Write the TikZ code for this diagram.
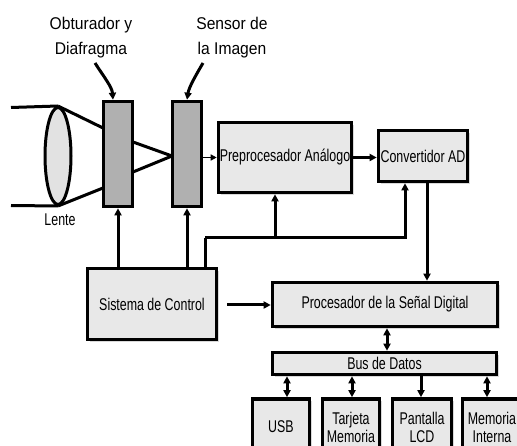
\documentclass[tikz,border=0pt]{standalone}
\usepackage{fontspec}
\setmainfont{Liberation Sans}
\newfontfamily\boxfont[FakeStretch=0.73]{Liberation Sans}
\newfontfamily\labfont[FakeStretch=0.92]{Liberation Sans}
\usetikzlibrary{arrows.meta,shadows,shapes.geometric,calc}
\definecolor{boxfill}{HTML}{E8E8E8}
\definecolor{darkfill}{HTML}{B0B0B0}
\definecolor{lensfill}{HTML}{E2E2E2}
\begin{document}
\begin{tikzpicture}[x=1pt,y=-1pt,
  blk/.style={draw=black,line width=3.6pt,fill=boxfill,inner sep=0pt,align=center,
    font=\boxfont\fontsize{17}{18}\selectfont,
    drop shadow={shadow xshift=2.5pt,shadow yshift=-2.5pt,opacity=0.3}},
  dk/.style={draw=black,line width=3.6pt,fill=darkfill,inner sep=0pt,minimum width=29pt,minimum height=105pt},
  lab/.style={align=center,inner sep=0pt,font=\labfont\fontsize{17}{25}\selectfont},
  ln/.style={line width=3pt},
  arr/.style={line width=3pt,-{Triangle[length=7pt,width=7pt]}},
  thinarr/.style={line width=1.8pt,-{Triangle[length=6pt,width=6pt]}},
  dbl/.style={line width=3pt,{Triangle[length=7pt,width=7pt]}-{Triangle[length=7pt,width=7pt]}}]
\useasboundingbox (0,0) rectangle (517,446);
\clip (0,0) rectangle (517,446);

% labels
\node[lab] (lobt) at (91,38) {Obturador y\\Diafragma};
\node[lab] (lsen) at (232,38) {Sensor de\\la Imagen};
\node[inner sep=0pt,font=\boxfont\fontsize{17}{18}\selectfont] (llen) at (60,220) {Lente};

% optics
\node[ellipse,draw=black,line width=3pt,fill=lensfill,minimum width=26pt,minimum height=97pt,inner sep=0pt] (lens) at (58,156) {};
\node[dk] (obt) at (118,154) {};
\node[dk] (sen) at (187,154) {};

% blocks
\node[blk,minimum width=133pt,minimum height=70pt] (pre) at (285,157.5) {Preprocesador Análogo};
\node[blk,minimum width=89pt,minimum height=51pt] (conv) at (423,156) {Convertidor AD};
\node[blk,minimum width=129pt,minimum height=71pt] (sis) at (152,304) {Sistema de Control};
\node[blk,minimum width=225pt,minimum height=44pt] (proc) at (385,304.5) {Procesador de la Señal Digital};
\node[blk,minimum width=224pt,minimum height=22pt] (bus) at (384.5,363.5) {Bus de Datos};
\node[blk,minimum width=57pt,minimum height=56pt] (usb) at (281,427) {USB};
\node[blk,minimum width=57pt,minimum height=56pt] (tar) at (351,427) {Tarjeta\\Memoria};
\node[blk,minimum width=59pt,minimum height=56pt] (pan) at (422,427) {Pantalla\\LCD};
\node[blk,minimum width=59pt,minimum height=56pt] (mem) at (492,427) {Memoria\\Interna};

% light rays
\coordinate (rtop) at (11,107.5);
\coordinate (rbot) at (11,205.5);
\coordinate (o1) at (103,128);
\coordinate (o2) at (103,188);
\coordinate (o3) at (133,142);
\coordinate (o4) at (133,172);
\coordinate (s1) at (172,156);
\draw[ln] (rtop) -- (lens.north);
\draw[ln] (rbot) -- (lens.south);
\draw[ln] (lens.north) -- (o1);
\draw[ln] (lens.south) -- (o2);
\draw[ln] (o3) -- (s1);
\draw[ln] (o4) -- (s1);

% label arrows
\coordinate (la1) at (95,63);
\coordinate (la2) at (203,63);
\draw[arr] (la1) .. controls (104,77) and (112,87) .. ($(obt.north)+(-5,0)$);
\draw[arr] (la2) .. controls (196,75) and (189,87) .. ($(sen.north)+(0,0)$);

% signal chain
\draw[thinarr] (sen.east |- pre.west) -- (pre.west);
\draw[arr] (pre.east) -- (pre.east -| conv.west);
\coordinate (cvout) at ($(conv.south)+(4,0)$);
\draw[arr] (cvout) -- (cvout |- proc.north);

% control lines
\draw[arr] (sis.north -| obt.south) -- (obt.south);
\draw[arr] (sis.north -| sen.south) -- (sen.south);
\coordinate (j1) at (205,238);
\coordinate (cvin) at ($(conv.south)+(-18,0)$);
\coordinate (prin) at ($(pre.south)+(-10,0)$);
\draw[ln] (sis.north -| j1) -- (j1);
\draw[arr] (j1) -| (cvin);
\draw[arr] (j1 -| prin) -- (prin);
\coordinate (sp) at (227,305);
\draw[arr] (sp) -- (sp -| proc.west);

% bus
\coordinate (pb) at ($(proc.south)+(2,0)$);
\draw[dbl] (pb) -- (pb |- bus.north);
\coordinate (b1) at ($(usb.north)+(6,0)$);
\coordinate (b2) at ($(tar.north)+(1,0)$);
\coordinate (b3) at ($(pan.north)+(-1,0)$);
\coordinate (b4) at ($(mem.north)+(-5,0)$);
\draw[dbl] (b1 |- bus.south) -- (b1);
\draw[dbl] (b2 |- bus.south) -- (b2);
\draw[arr] (b3 |- bus.south) -- (b3);
\draw[dbl] (b4 |- bus.south) -- (b4);
\end{tikzpicture}
\end{document}
